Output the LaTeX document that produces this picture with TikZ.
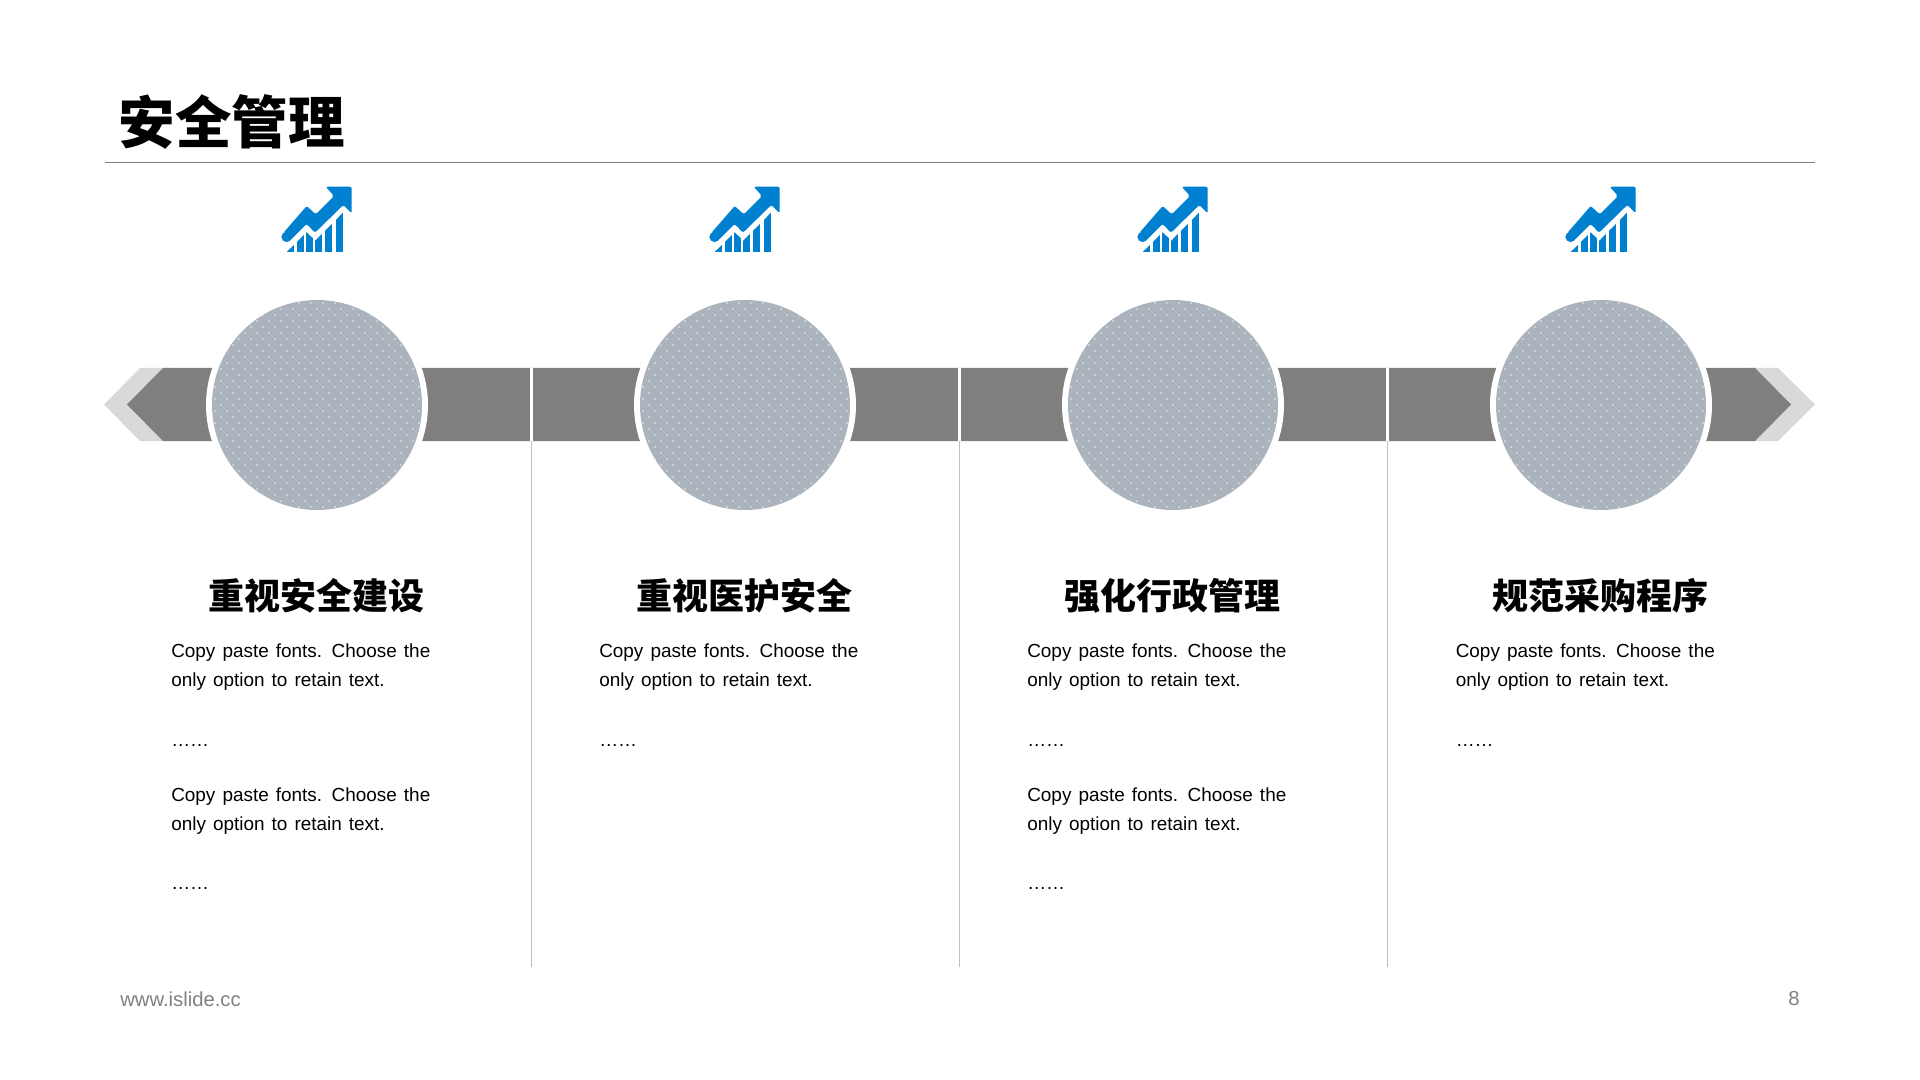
\documentclass[tikz,border=0pt]{standalone}
\usepackage{fontspec}
\setmainfont{Liberation Sans}
\newfontfamily\cjk{Noto Sans CJK SC Black}
\usetikzlibrary{positioning}
\definecolor{bandgray}{HTML}{7F7F7F}
\definecolor{chevgray}{HTML}{D9D9D9}
\definecolor{discgray}{HTML}{ABB3BD}
\definecolor{dotgray}{HTML}{CACFD6}
\definecolor{rulegray}{HTML}{BFBFBF}
\definecolor{trendblue}{HTML}{0080CE}
\tikzset{
    headline/.style={font=\cjk\fontsize{42.4}{50}\selectfont,anchor=west,inner sep=0pt},
    heading/.style={font=\cjk\fontsize{27}{32}\selectfont,inner sep=0pt},
    bodytext/.style={font=\fontsize{14.2}{21.4}\selectfont,execute at begin node={\spaceskip=5.3pt\relax},
        anchor=north west,inner sep=0pt,text width=300*0.75pt,align=left},
    footer/.style={font=\fontsize{15.2}{18}\selectfont,text=black!50,inner sep=0pt},
}
\begin{document}
\begin{tikzpicture}[x=0.75pt,y=-0.75pt]
\useasboundingbox (0,0) rectangle (1920,1080);
\def\trend#1;{%
    \begin{scope}[shift={#1}]
        \fill [trendblue,rounded corners=1.5] (325.7,186.7) -- (351.7,186.7) -- (351.7,213.3) --
            (343.3,205) -- (315,232.7) -- (306.7,224) -- (290,240.7) -- (283,233.3) --
            (306.7,206) -- (315.7,214.3) -- (334,196) -- cycle;
        \fill [trendblue] (286.6,236.9) circle (5.2);
        \begin{scope}
            \clip (287,251.7) -- (306.7,232.3) -- (315.3,240.7) -- (343,212.7) -- (343,252) -- (287,252) -- cycle;
            \foreach \a/\b in {287/294,297/303.5,306/312.7,315.3/321.7,324.7/332,335.5/343}
                \fill [trendblue] (\a,205) rectangle (\b,251.7);
        \end{scope}
    \end{scope}}
\def\disc#1;{%
    \begin{scope}[shift={#1}]
        \fill [white] (0,0) circle (111);
        \begin{scope}
            \clip (0,0) circle (105);
            \fill [discgray] (-105,-105) rectangle (105,105);
            \foreach \i in {-9,...,9}
                \foreach \j in {-18,...,18} {
                    \pgfmathparse{int(mod(abs(\j),2))}
                    \ifnum\pgfmathresult=0
                        \fill [dotgray] (\i*12-1,\j*6-1) rectangle ++(2,2);
                    \else
                        \fill [dotgray] (\i*12+5,\j*6-1) rectangle ++(2,2);
                    \fi
                }
        \end{scope}
    \end{scope}}

\node (title) at (118.5,122) [headline] {安全管理};
\draw [black!50] (105,162) -- (1815,162);

% band and end chevrons
\fill [chevgray] (104,404.5) -- (140,368) -- (170,368) -- (170,441) -- (140,441) -- cycle;
\fill [chevgray] (1815,404.5) -- (1778,368) -- (1750,368) -- (1750,441) -- (1778,441) -- cycle;
\fill [bandgray] (127,404.5) -- (163,368) -- (1755,368) -- (1791,404.5) -- (1755,441) -- (163,441) -- cycle;

\foreach \x in {531.5,959.5,1387.5} {
    \fill [white] (\x-1.8,368) rectangle (\x+1.2,441);
    \draw [rulegray,line width=1.1pt] (\x,441) -- (\x,967);
}

\foreach \x in {317,745,1173,1601} {
    \disc(\x,405);
    \trend(\x-317,0);
}

\node (head1) at (316,596) [heading] {重视安全建设};
\node (head2) at (744,596) [heading] {重视医护安全};
\node (head3) at (1172,596) [heading] {强化行政管理};
\node (head4) at (1600,596) [heading] {规范采购程序};

\foreach \n/\x in {1/171,2/599,3/1027,4/1455.5} {
    \node (textup\n) at (\x,644) [bodytext] {Copy paste fonts. Choose the\\only option to retain text.};
    \node (dotsup\n) at (\x,744) [bodytext] {……};
}
\foreach \n/\x in {1/171,3/1027} {
    \node (textlow\n) at (\x,788) [bodytext] {Copy paste fonts. Choose the\\only option to retain text.};
    \node (dotslow\n) at (\x,887) [bodytext] {……};
}

\node (site) at (120,999) [footer,anchor=west] {www.islide.cc};
\node (page) at (1794,999) [footer] {8};
\end{tikzpicture}
\end{document}
